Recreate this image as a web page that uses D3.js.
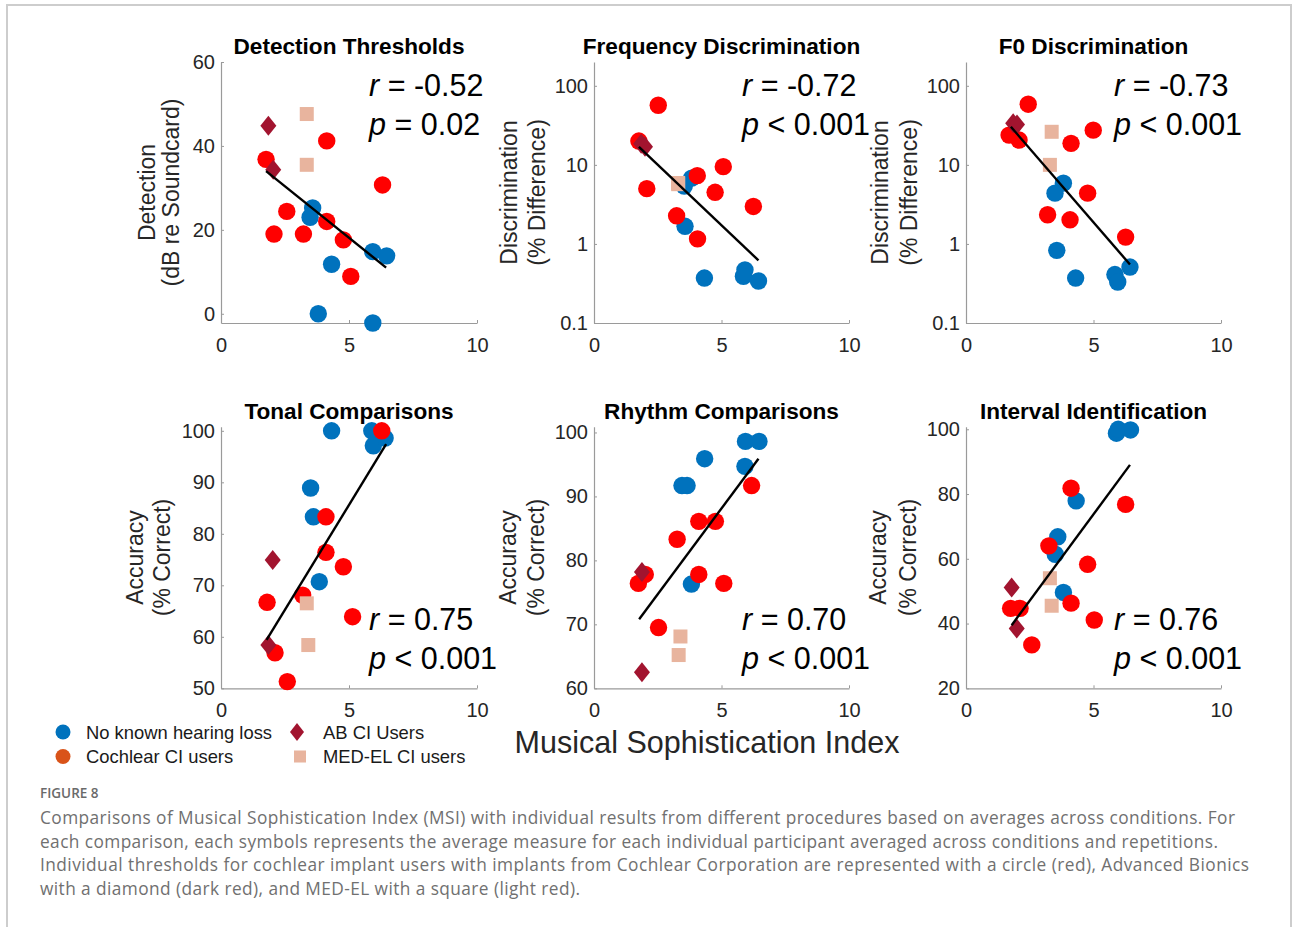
<!DOCTYPE html>
<html>
<head>
<meta charset="utf-8">
<script src="https://cdn.jsdelivr.net/npm/d3@7"></script>
<style>
  html, body { margin: 0; padding: 0; background: #fff; }
  svg { display: block; }
</style>
</head>
<body>
<svg id="chart" width="1292" height="927"></svg>
<script>
// ---------------- DATA ----------------
const msiTicks = [0, 5, 10];

// Detection Thresholds  [MSI, dB re Soundcard]
const detNH  = [[3.58,25.2],[3.48,23.0],[4.32,11.8],[3.80,0.0],[5.93,-2.2],[5.93,14.8],[6.47,13.8]];
const detCI  = [[1.76,36.8],[2.07,19.0],[2.57,24.4],[3.22,19.0],[4.13,41.2],[4.13,22.0],[4.78,17.6],[5.07,8.9],[6.31,30.7]];
const detAB  = [[1.85,44.8],[2.04,34.3]];
const detMED = [[3.35,47.6],[3.35,35.5]];
const detFit = [[1.76,34.0],[6.45,11.0]];
const detTicks = [0, 20, 40, 60];

// Frequency Discrimination  [MSI, % difference]
const freqNH  = [[3.54,5.4],[3.83,6.8],[3.57,1.67],[4.33,0.37],[5.92,0.47],[5.86,0.39],[6.45,0.34]];
const freqCI  = [[2.52,56.8],[1.76,20.0],[2.07,5.0],[3.24,2.27],[4.05,7.3],[4.06,1.16],[4.75,4.5],[5.07,9.5],[6.25,2.98]];
const freqAB  = [[1.85,18.5],[2.0,16.9]];
const freqMED = [[3.30,5.7],[3.30,5.9]];
const freqFit = [[1.76,16.9],[6.45,0.62]];

// F0 Discrimination  [MSI, % difference]
const f0NH  = [[3.82,5.87],[3.49,4.39],[3.56,0.83],[4.30,0.37],[5.84,0.41],[5.95,0.33],[6.43,0.51]];
const f0CI  = [[2.44,58.5],[1.69,23.8],[2.08,20.6],[4.12,18.7],[4.99,27.5],[4.77,4.39],[3.20,2.34],[4.08,2.02],[6.26,1.22]];
const f0AB  = [[1.85,33.5],[2.0,32.5]];
const f0MED = [[3.36,26.2],[3.29,10.0]];
const f0Fit = [[1.76,30.3],[6.43,0.55]];
const logTicks = [0.1, 1, 10, 100];

// Tonal Comparisons  [MSI, % correct]
const tonNH  = [[4.32,100],[5.89,100],[5.95,97.1],[6.41,98.6],[3.50,88.9],[3.61,83.3],[3.84,70.7]];
const tonCI  = [[6.28,100],[4.10,83.3],[4.10,76.4],[4.78,73.6],[3.19,68.1],[1.80,66.7],[5.14,63.9],[2.11,56.9],[2.59,51.3]];
const tonAB  = [[2.02,74.9],[1.85,58.4]];
const tonMED = [[3.35,66.5],[3.41,58.4]];
const tonFit = [[1.78,59.4],[6.45,97.4]];
const tonTicks = [50, 60, 70, 80, 90, 100];

// Rhythm Comparisons  [MSI, % correct]
const rhyNH  = [[5.94,98.6],[6.47,98.6],[4.34,95.9],[5.92,94.7],[3.45,91.7],[3.65,91.7],[3.82,76.3]];
const rhyCI  = [[6.18,91.7],[4.11,86.1],[4.76,86.1],[3.26,83.3],[2.01,77.8],[1.74,76.4],[4.11,77.8],[5.09,76.4],[2.53,69.5]];
const rhyAB  = [[1.88,78.2],[1.88,62.5]];
const rhyMED = [[3.39,68.1],[3.32,65.2]];
const rhyFit = [[1.77,70.8],[6.45,95.9]];
const rhyTicks = [60, 70, 80, 90, 100];

// Interval Identification  [MSI, % correct]
const intNH  = [[5.90,98.8],[5.97,100],[6.45,99.8],[4.32,77.9],[3.60,66.8],[3.50,61.4],[3.82,49.6]];
const intCI  = [[4.12,81.8],[6.26,76.8],[3.25,64.0],[4.77,58.3],[4.12,46.3],[1.75,44.7],[2.12,44.7],[5.03,41.1],[2.58,33.4]];
const intAB  = [[1.79,51.1],[1.99,38.5]];
const intMED = [[3.29,54.0],[3.36,45.5]];
const intFit = [[1.79,39.5],[6.43,89.0]];
const intTicks = [20, 40, 60, 80, 100];

const panelTitles = ["Detection Thresholds","Frequency Discrimination","F0 Discrimination",
                     "Tonal Comparisons","Rhythm Comparisons","Interval Identification"];
const yLabels = [["Detection","(dB re Soundcard)"],["Discrimination","(% Difference)"],["Discrimination","(% Difference)"],
                 ["Accuracy","(% Correct)"],["Accuracy","(% Correct)"],["Accuracy","(% Correct)"]];
const rStats = ["-0.52","-0.72","-0.73","0.75","0.70","0.76"];
const pStats = ["= 0.02","< 0.001","< 0.001","< 0.001","< 0.001","< 0.001"];

const legendLabels = ["No known hearing loss","Cochlear CI users","AB CI Users","MED-EL CI users"];
const xAxisTitle = "Musical Sophistication Index";
const figureLabel = "FIGURE 8";
const captionLines = [
  "Comparisons of Musical Sophistication Index (MSI) with individual results from different procedures based on averages across conditions. For",
  "each comparison, each symbols represents the average measure for each individual participant averaged across conditions and repetitions.",
  "Individual thresholds for cochlear implant users with implants from Cochlear Corporation are represented with a circle (red), Advanced Bionics",
  "with a diamond (dark red), and MED-EL with a square (light red)."
];

// ---------------- STYLE / LAYOUT ----------------
const C = { nh: "#0072BD", ci: "#FF0000", ciLegend: "#D95319", ab: "#A2142F", med: "#E8B49E" };
const textCol = "#262626";
const axisCol = "#9a9a9a";

const colX = [[221, 477], [594, 849], [966, 1221]];
const rowY = [[323, 62], [688.3, 426.7]];

const panels = [
  { data:[detNH, detCI, detAB, detMED], fit:detFit, log:false, domain:[-2.2, 60],  ticks:detTicks, col:0, row:0, lab:[66,42] },
  { data:[freqNH,freqCI,freqAB,freqMED],fit:freqFit,log:true,  domain:[0.1, 200],  ticks:logTicks, col:1, row:0, lab:[77,49] },
  { data:[f0NH,  f0CI,  f0AB,  f0MED],  fit:f0Fit,  log:true,  domain:[0.1, 200],  ticks:logTicks, col:2, row:0, lab:[78,49] },
  { data:[tonNH, tonCI, tonAB, tonMED], fit:tonFit, log:false, domain:[50, 100.8], ticks:tonTicks, col:0, row:1, lab:[78,51] },
  { data:[rhyNH, rhyCI, rhyAB, rhyMED], fit:rhyFit, log:false, domain:[60, 100.9], ticks:rhyTicks, col:1, row:1, lab:[78,50] },
  { data:[intNH, intCI, intAB, intMED], fit:intFit, log:false, domain:[20, 100.8], ticks:intTicks, col:2, row:1, lab:[80,50] },
];

const svg = d3.select("#chart");
const FONT = "'Liberation Sans', Arial, Helvetica, sans-serif";

// frame
svg.append("rect").attr("x", 7).attr("y", 5).attr("width", 1284).attr("height", 960)
  .attr("fill", "none").attr("stroke", "#cdcdcd").attr("stroke-width", 2);

const diamondPath = (w, h) => `M0,${-h/2}L${w/2},0L0,${h/2}L${-w/2},0Z`;

function drawMarkers(g, kind, pts, x, y) {
  if (kind === 0 || kind === 1) {
    g.selectAll(null).data(pts).join("circle")
      .attr("cx", d => x(d[0])).attr("cy", d => y(d[1])).attr("r", 8.7)
      .attr("fill", kind === 0 ? C.nh : C.ci);
  } else if (kind === 2) {
    g.selectAll(null).data(pts).join("path")
      .attr("transform", d => `translate(${x(d[0])},${y(d[1])})`)
      .attr("d", diamondPath(16, 20)).attr("fill", C.ab);
  } else {
    g.selectAll(null).data(pts).join("rect")
      .attr("x", d => x(d[0]) - 7).attr("y", d => y(d[1]) - 7)
      .attr("width", 14).attr("height", 14).attr("fill", C.med);
  }
}

panels.forEach((p, i) => {
  const [x0, x1] = colX[p.col];
  const [yb, yt] = rowY[p.row];
  const x = d3.scaleLinear().domain([0, 10]).range([x0, x1]);
  const y = (p.log ? d3.scaleLog() : d3.scaleLinear()).domain(p.domain).range([yb, yt]);

  const g = svg.append("g");

  // axes
  const ax = g.append("g").attr("transform", `translate(0,${yb})`)
    .call(d3.axisBottom(x).tickValues(msiTicks).tickSize(-3).tickSizeOuter(0).tickPadding(15).tickFormat(d3.format("d")));
  const ay = g.append("g").attr("transform", `translate(${x0},0)`)
    .call(d3.axisLeft(y).tickValues(p.ticks).tickSize(-3).tickSizeOuter(0).tickPadding(6).tickFormat(d => String(d)));
  [ax, ay].forEach(a => {
    a.select(".domain").attr("stroke", axisCol).attr("stroke-width", 1.2);
    a.selectAll(".tick line").attr("stroke", axisCol);
    a.selectAll(".tick text").attr("fill", textCol).attr("font-size", 20).attr("font-family", FONT);
  });

  // title
  g.append("text").attr("x", (x0 + x1) / 2).attr("y", yt - 8)
    .attr("text-anchor", "middle").attr("font-family", FONT).attr("font-weight", "bold")
    .attr("font-size", 22.6).attr("fill", "#000").text(panelTitles[i]);

  // y labels
  yLabels[i].forEach((t, k) => {
    g.append("text")
      .attr("transform", `translate(${x0 - p.lab[k]},${(yb + yt) / 2}) rotate(-90)`)
      .attr("text-anchor", "middle").attr("font-family", FONT).attr("font-size", 23)
      .attr("fill", textCol).text(t);
  });

  // markers: NH, Cochlear, AB, MED-EL
  p.data.forEach((pts, k) => drawMarkers(g.append("g"), k, pts, x, y));

  // regression line
  g.append("path").datum(p.fit)
    .attr("d", d3.line().x(d => x(d[0])).y(d => y(d[1])))
    .attr("stroke", "#000").attr("stroke-width", 2.4).attr("fill", "none");

  // statistics
  const sx = x0 + 148;
  const rb = p.row === 0 ? 96 : 630;
  const pb = p.row === 0 ? 134.5 : 669;
  const rt = g.append("text").attr("x", sx).attr("y", rb).attr("font-family", FONT)
    .attr("font-size", 30.5).attr("fill", "#000");
  rt.append("tspan").attr("font-style", "italic").text("r");
  rt.append("tspan").text(" = " + rStats[i]);
  const pt = g.append("text").attr("x", sx).attr("y", pb).attr("font-family", FONT)
    .attr("font-size", 30.5).attr("fill", "#000");
  pt.append("tspan").attr("font-style", "italic").text("p");
  pt.append("tspan").text(" " + pStats[i]);
});

// legend
const lg = svg.append("g");
const legPos = [[63, 732, 86], [63, 756.5, 86], [297, 732, 323], [300, 756.5, 323]];
legendLabels.forEach((lab, k) => {
  const [mx, my, tx] = legPos[k];
  if (k === 0 || k === 1) {
    lg.append("circle").attr("cx", mx).attr("cy", my).attr("r", 7.5).attr("fill", k === 0 ? C.nh : C.ciLegend);
  } else if (k === 2) {
    lg.append("path").attr("transform", `translate(${mx},${my})`).attr("d", diamondPath(14, 18)).attr("fill", C.ab);
  } else {
    lg.append("rect").attr("x", mx - 6).attr("y", my - 6).attr("width", 12).attr("height", 12).attr("fill", C.med);
  }
  lg.append("text").attr("x", tx).attr("y", my + 6.5).attr("font-family", FONT)
    .attr("font-size", 18.4).attr("fill", "#1a1a1a").text(lab);
});

// common x title
svg.append("text").attr("x", 707).attr("y", 753).attr("text-anchor", "middle")
  .attr("font-family", FONT).attr("font-size", 30.5).attr("fill", textCol).text(xAxisTitle);

// caption
svg.append("text").attr("x", 40).attr("y", 798).attr("font-family", "'Open Sans', 'Noto Sans', sans-serif")
  .attr("font-size", 13.5).attr("font-weight", 600).attr("fill", "#6a6a6a").text(figureLabel);
const capEnds = [1235, 1218, 1249, 580];
const capBase = [823.5, 847.5, 871, 894.5];
captionLines.forEach((t, k) => {
  svg.append("text").attr("x", 40).attr("y", capBase[k])
    .attr("font-family", "'Open Sans', 'Noto Sans', sans-serif").attr("font-size", 17.3)
    .attr("fill", "#707070").attr("textLength", capEnds[k] - 40).attr("lengthAdjust", "spacing").text(t);
});
</script>
</body>
</html>
